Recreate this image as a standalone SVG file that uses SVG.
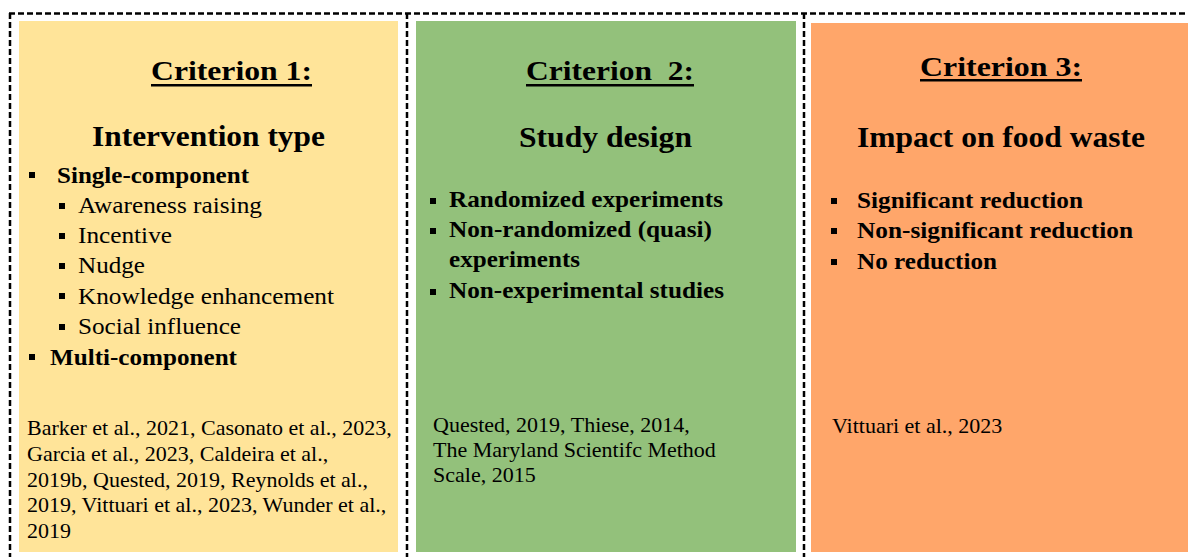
<svg xmlns="http://www.w3.org/2000/svg" width="1188" height="557" viewBox="0 0 1188 557">
  <style>
    text { font-family: "Liberation Serif", "Times New Roman", serif; fill: #000; }
    .title { font-size: 27px; font-weight: bold; }
    .head { font-size: 29px; font-weight: bold; }
    .item { font-size: 23px; font-weight: bold; }
    .sub { font-size: 22.5px; }
    .cite { font-size: 22px; }
    .frame { fill: none; stroke: #000; stroke-width: 2.5; stroke-dasharray: 6 3; }
    .bullet { fill: #000; }
    .rule { fill: #000; }
  </style>

  <rect width="1188" height="557" fill="#ffffff"/>

  <!-- dashed frame dividing the three criteria -->
  <g id="frame">
    <line class="frame" x1="9" y1="13.5" x2="1188" y2="13.5"/>
    <line class="frame" x1="10" y1="13" x2="10" y2="557"/>
    <line class="frame" x1="407" y1="13" x2="407" y2="557"/>
    <line class="frame" x1="804" y1="13" x2="804" y2="557"/>
  </g>

  <!-- Criterion 1 -->
  <g id="criterion-1">
    <rect x="19" y="21" width="379" height="531" fill="#FFE499"/>
    <text class="title" x="151" y="80" textLength="161" lengthAdjust="spacingAndGlyphs">Criterion 1:</text>
    <rect class="rule" x="151" y="84" width="161" height="2.5"/>
    <text class="head" x="92" y="146" textLength="233" lengthAdjust="spacingAndGlyphs">Intervention type</text>

    <rect class="bullet" x="29" y="172" width="6" height="6"/>
    <text class="item" x="57" y="183" textLength="192" lengthAdjust="spacingAndGlyphs">Single-component</text>

    <rect class="bullet" x="59" y="203" width="6" height="6"/>
    <text class="sub" x="78" y="213" textLength="184" lengthAdjust="spacingAndGlyphs">Awareness raising</text>
    <rect class="bullet" x="59" y="233" width="6" height="6"/>
    <text class="sub" x="78" y="243" textLength="94" lengthAdjust="spacingAndGlyphs">Incentive</text>
    <rect class="bullet" x="59" y="263" width="6" height="6"/>
    <text class="sub" x="78" y="273" textLength="67" lengthAdjust="spacingAndGlyphs">Nudge</text>
    <rect class="bullet" x="59" y="293" width="6" height="6"/>
    <text class="sub" x="78" y="304" textLength="256" lengthAdjust="spacingAndGlyphs">Knowledge enhancement</text>
    <rect class="bullet" x="59" y="324" width="6" height="6"/>
    <text class="sub" x="78" y="334" textLength="163" lengthAdjust="spacingAndGlyphs">Social influence</text>

    <rect class="bullet" x="29" y="354" width="6" height="6"/>
    <text class="item" x="50" y="365" textLength="187" lengthAdjust="spacingAndGlyphs">Multi-component</text>

    <text class="cite" x="27" y="435">Barker et al., 2021, Casonato et al., 2023,</text>
    <text class="cite" x="27" y="461">Garcia et al., 2023, Caldeira et al.,</text>
    <text class="cite" x="27" y="487">2019b, Quested, 2019, Reynolds et al.,</text>
    <text class="cite" x="27" y="512">2019, Vittuari et al., 2023, Wunder et al.,</text>
    <text class="cite" x="27" y="538">2019</text>
  </g>

  <!-- Criterion 2 -->
  <g id="criterion-2">
    <rect x="416" y="21" width="380" height="531" fill="#93C17B"/>
    <text class="title" x="526" y="80" textLength="168" lengthAdjust="spacingAndGlyphs" style="white-space:pre">Criterion  2:</text>
    <rect class="rule" x="526" y="84" width="168" height="2.5"/>
    <text class="head" x="519" y="147" textLength="173" lengthAdjust="spacingAndGlyphs">Study design</text>

    <rect class="bullet" x="430" y="198" width="6" height="6"/>
    <text class="item" x="449" y="207" textLength="274" lengthAdjust="spacingAndGlyphs">Randomized experiments</text>
    <rect class="bullet" x="430" y="228" width="6" height="6"/>
    <text class="item" x="449" y="237" textLength="263" lengthAdjust="spacingAndGlyphs">Non-randomized (quasi)</text>
    <text class="item" x="449" y="267" textLength="131" lengthAdjust="spacingAndGlyphs">experiments</text>
    <rect class="bullet" x="430" y="289" width="6" height="6"/>
    <text class="item" x="449" y="298" textLength="275" lengthAdjust="spacingAndGlyphs">Non-experimental studies</text>

    <text class="cite" x="433" y="432">Quested, 2019, Thiese, 2014,</text>
    <text class="cite" x="433" y="457">The Maryland Scientifc Method</text>
    <text class="cite" x="433" y="482">Scale, 2015</text>
  </g>

  <!-- Criterion 3 -->
  <g id="criterion-3">
    <rect x="811" y="23" width="377" height="529" fill="#FFA66A"/>
    <text class="title" x="920" y="76" textLength="162" lengthAdjust="spacingAndGlyphs">Criterion 3:</text>
    <rect class="rule" x="920" y="79" width="162" height="2.5"/>
    <text class="head" x="857" y="147" textLength="288" lengthAdjust="spacingAndGlyphs">Impact on food waste</text>

    <rect class="bullet" x="831" y="198" width="6" height="6"/>
    <text class="item" x="857" y="208" textLength="226" lengthAdjust="spacingAndGlyphs">Significant reduction</text>
    <rect class="bullet" x="831" y="228" width="6" height="6"/>
    <text class="item" x="857" y="238" textLength="276" lengthAdjust="spacingAndGlyphs">Non-significant reduction</text>
    <rect class="bullet" x="831" y="259" width="6" height="6"/>
    <text class="item" x="857" y="269" textLength="140" lengthAdjust="spacingAndGlyphs">No reduction</text>

    <text class="cite" x="832" y="433">Vittuari et al., 2023</text>
  </g>
</svg>
